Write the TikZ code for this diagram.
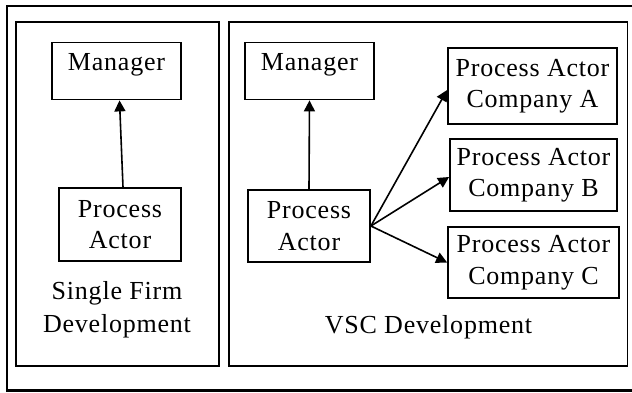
\documentclass[tikz,border=0pt]{standalone}
\usepackage{fontspec}
\setmainfont[LetterSpace=3]{Liberation Serif}
\usetikzlibrary{arrows.meta}
\begin{document}
\begin{tikzpicture}[x=1pt,y=-1pt,
  box/.style={draw,line width=1.8pt,inner sep=0pt,align=center,
    font=\fontsize{26}{31.5}\selectfont},
  lbl/.style={inner sep=0pt,align=center,font=\fontsize{26}{33}\selectfont},
  panel/.style={draw,line width=1.8pt},
  arr/.style={-{Triangle[length=11pt,width=11pt]},line width=1.6pt}]
\useasboundingbox (0,0) rectangle (632,392);
% outer frame
\draw[line width=2.4pt] (7,6) rectangle (634,390.5);
% panels
\draw[panel] (16,22) rectangle (219,366);
\draw[panel] (229,22) rectangle (627.5,366);
% left panel
\node[box,minimum width=129pt,text height=28pt,text depth=29pt] (m1) at (116.5,71) {Manager};
\node[box,minimum width=122pt,minimum height=73pt] (p1) at (120,224.5) {Process\\Actor};
\node[lbl] (t1) at (117,310) {Single Firm\\Development};
% right panel
\node[box,minimum width=129pt,text height=28pt,text depth=29pt] (m2) at (309.5,71) {Manager};
\node[box,minimum width=122pt,minimum height=72pt] (p2) at (309,226) {Process\\Actor};
\node[box,minimum width=169pt,minimum height=76pt] (ca) at (532.5,86) {Process Actor\\Company A};
\node[box,minimum width=167pt,minimum height=72pt] (cb) at (533.5,175) {Process Actor\\Company B};
\node[box,minimum width=171pt,minimum height=71pt] (cc) at (533.5,262.5) {Process Actor\\Company C};
\node[lbl,anchor=base] (t2) at (428.5,333) {VSC Development};
% arrows
\draw[arr] ([xshift=3pt]p1.north) -- ([xshift=3pt]m1.south);
\draw[arr] (p2.north) -- (m2.south);
\draw[arr] (p2.east) -- ([yshift=-4pt]ca.west);
\draw[arr] (p2.east) -- ([yshift=-2pt]cb.west);
\draw[arr] (p2.east) -- (cc.west);
\end{tikzpicture}
\end{document}
